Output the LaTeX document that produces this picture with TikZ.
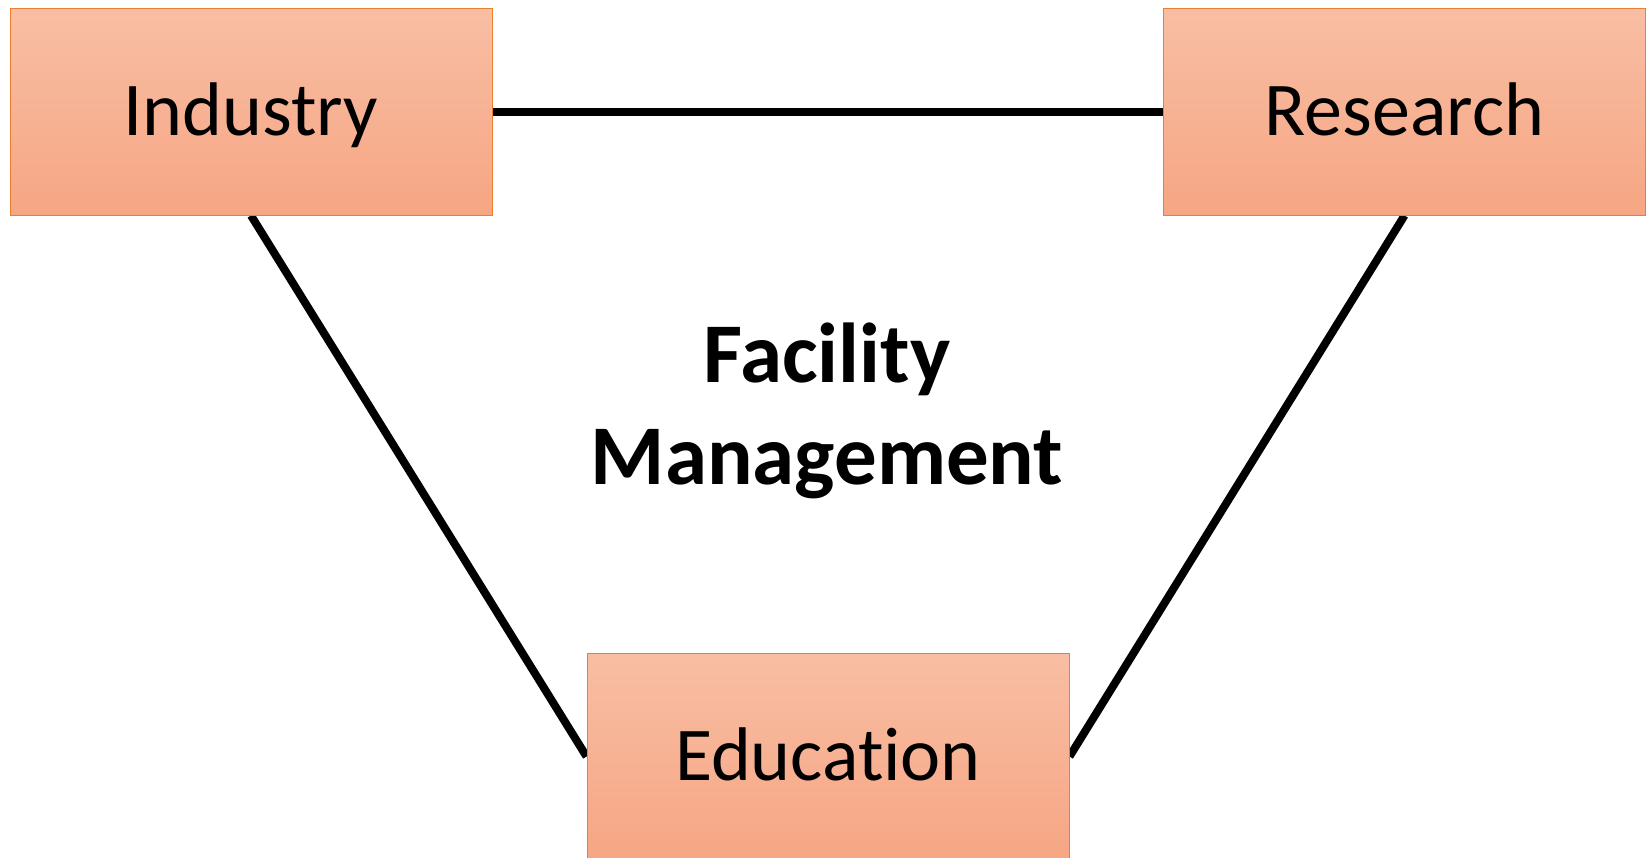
\documentclass[tikz,border=0pt]{standalone}
\usepackage{fontspec}
\setmainfont{Carlito}[Ligatures=NoCommon]
\begin{document}
\begin{tikzpicture}[x=1pt,y=-1pt,
  fieldbox/.style={draw=boxedge, line width=1pt, top color=boxtop, bottom color=boxbottom,
    minimum width=482pt, minimum height=207pt, inner sep=0pt,
    font=\fontsize{76}{91}\selectfont, text height=48pt, text depth=0pt},
  link/.style={line width=8pt, black}]
\definecolor{boxtop}{RGB}{248,190,164}
\definecolor{boxbottom}{RGB}{246,166,131}
\definecolor{boxedge}{RGB}{237,125,49}
\clip (0,0) rectangle (1649,857);
\fill[white] (0,0) rectangle (1649,857);
% the three fields at the corners of the triangle
\node[fieldbox] (industry) at (251,111.5) {Industry};
\node[fieldbox] (research) at (1404.5,111.5) {Research};
\node[fieldbox] (education) at (828,756.5) {Education};
% links between the three fields
\draw[link] (industry.east) -- (research.west);
\draw[link] (industry.south) -- (education.west);
\draw[link] (research.south) -- (education.east);
% boxes redrawn over the link ends
\node[fieldbox] at (industry) {Industry};
\node[fieldbox] at (research) {Research};
\node[fieldbox] at (education) {Education};
% central label (base anchor sits on the last line)
\node[font=\bfseries\fontsize{85}{102}\selectfont, align=center, anchor=base] (fm) at (827,484) {Facility\\Management};
\end{tikzpicture}
\end{document}
